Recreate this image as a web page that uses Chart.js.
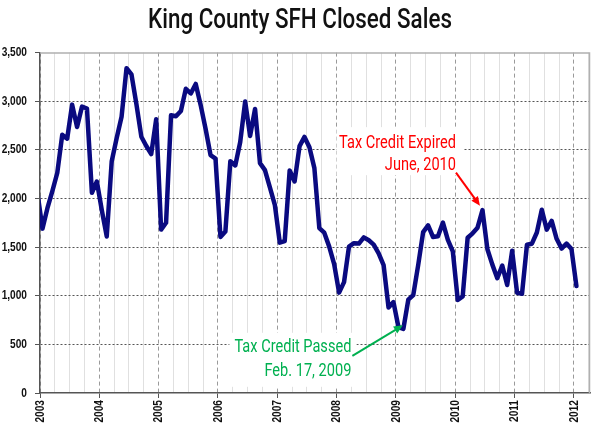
<!DOCTYPE html>
<html><head><meta charset="utf-8">
<script src="https://cdn.jsdelivr.net/npm/chart.js@4.4.1/dist/chart.umd.min.js"></script>
<style>html,body{margin:0;padding:0;background:#fff}#wrap{width:600px;height:435px;position:relative}</style>
</head><body><div id="wrap"><canvas id="c"></canvas></div>
<script>
// ---- data ----
const FIRST_YEAR = 2003;
const months = [];
for (let y = 2002, m = 12; !(y === 2012 && m === 2);) {
  months.push(y + '-' + String(m).padStart(2, '0'));
  m++; if (m > 12) { m = 1; y++; }
}
// monthly closed sales, Dec 2002 .. Jan 2012
const sales = [
  2050,
  1690, 1900, 2075, 2265, 2655, 2615, 2965, 2735, 2945, 2925, 2058, 2175,
  1880, 1610, 2380, 2620, 2840, 3340, 3275, 2970, 2635, 2540, 2457, 2815,
  1680, 1750, 2855, 2845, 2900, 3128, 3080, 3178, 2960, 2715, 2445, 2410,
  1605, 1660, 2383, 2340, 2580, 2997, 2643, 2920, 2363, 2292, 2115, 1935,
  1546, 1562, 2288, 2175, 2538, 2633, 2526, 2312, 1695, 1648, 1505, 1325,
  1032, 1140, 1505, 1540, 1536, 1600, 1570, 1525, 1436, 1316, 878, 935,
  678, 660, 960, 1007, 1316, 1654, 1723, 1604, 1611, 1752, 1574, 1457,
  956, 993, 1596, 1642, 1700, 1880, 1478, 1320, 1180, 1310, 1110, 1462,
  1030, 1020, 1525, 1535, 1650, 1885, 1680, 1770, 1585, 1485, 1537, 1480,
  1100
];
const yearLabels = ['2003','2004','2005','2006','2007','2008','2009','2010','2011','2012'];
const yTicks = [0, 500, 1000, 1500, 2000, 2500, 3000, 3500];
const titleText = 'King County SFH Closed Sales';
const notes = [
  { lines: ['Tax Credit Passed', 'Feb. 17, 2009'], at: '2009-02' },
  { lines: ['Tax Credit Expired', 'June, 2010'], at: '2010-06' }
];

// ---- condensed text rendering (no narrow font installed) ----
const CONDENSE = { CondensedSans: 0.78, CondensedTitle: 0.80, CondensedNote: 0.81 };
(function () {
  const proto = CanvasRenderingContext2D.prototype;
  const origFill = proto.fillText, origMeasure = proto.measureText;
  const factor = f => {
    for (const k in CONDENSE) if (String(f).indexOf(k) >= 0) return CONDENSE[k];
    return 0;
  };
  proto.fillText = function (text, x, y, maxW) {
    const s = factor(this.font);
    if (!s) return maxW === undefined ? origFill.call(this, text, x, y) : origFill.call(this, text, x, y, maxW);
    this.save();
    this.translate(x, y);
    this.scale(s, 1);
    origFill.call(this, text, 0, 0);
    this.restore();
  };
  proto.measureText = function (text) {
    const m = origMeasure.call(this, text);
    const s = factor(this.font);
    if (!s) return m;
    return {
      width: m.width * s,
      actualBoundingBoxAscent: m.actualBoundingBoxAscent,
      actualBoundingBoxDescent: m.actualBoundingBoxDescent,
      actualBoundingBoxLeft: m.actualBoundingBoxLeft * s,
      actualBoundingBoxRight: m.actualBoundingBoxRight * s,
      fontBoundingBoxAscent: m.fontBoundingBoxAscent,
      fontBoundingBoxDescent: m.fontBoundingBoxDescent
    };
  };
})();

// ---- styling ----
const FONT = "CondensedSans, 'Liberation Sans', Arial, sans-serif";
const TITLE_FONT = "CondensedTitle, Roboto, 'Liberation Sans', sans-serif";
const NOTE_FONT = "CondensedNote, Roboto, 'Liberation Sans', sans-serif";
const noteStyles = [
  { color: '#00b050', textDx: -52, lineDy: [19, 43], box: [-174, 4, 127, 54], arrow: [-51, 27, -0.5, -3.5] },
  { color: '#ff0000', textDx: -26.5, lineDy: [-67, -44.5], box: [-146, -83, 127, 48], arrow: [-26.5, -37.5, -2.5, -4.5] }
];

function monthOffset(label) {
  const [y, m] = label.split('-').map(Number);
  return (y - FIRST_YEAR) * 12 + (m - 1);
}
const points = sales.map((v, k) => ({ x: monthOffset(months[k]) + 0.5, y: v }));

function anchorOf(chart, note) {
  const k = months.indexOf(note.at);
  return {
    x: chart.scales.x.getPixelForValue(monthOffset(note.at) + 0.5),
    y: chart.scales.y.getPixelForValue(sales[k])
  };
}

const decor = {
  id: 'decor',
  beforeDatasetsDraw(chart) {
    const ctx = chart.ctx, a = chart.chartArea;
    ctx.save();
    ctx.strokeStyle = '#b0b0b0';
    ctx.lineWidth = 1.5;
    ctx.beginPath();
    ctx.moveTo(a.left, a.top + 0.5);
    ctx.lineTo(a.right - 0.5, a.top + 0.5);
    ctx.lineTo(a.right - 0.5, a.bottom);
    ctx.stroke();
    ctx.fillStyle = '#ffffff';
    notes.forEach((n, i) => {
      const p = anchorOf(chart, n), b = noteStyles[i].box;
      ctx.fillRect(p.x + b[0], p.y + b[1], b[2], b[3]);
    });
    ctx.restore();
  },
  afterDatasetsDraw(chart) {
    const ctx = chart.ctx;
    ctx.save();
    notes.forEach((n, i) => {
      const s = noteStyles[i], p = anchorOf(chart, n);
      ctx.fillStyle = s.color;
      ctx.strokeStyle = s.color;
      ctx.font = '18px ' + NOTE_FONT;
      ctx.textAlign = 'right';
      ctx.textBaseline = 'middle';
      n.lines.forEach((t, j) => ctx.fillText(t, p.x + s.textDx, p.y + s.lineDy[j]));
      const x1 = p.x + s.arrow[0], y1 = p.y + s.arrow[1], x2 = p.x + s.arrow[2], y2 = p.y + s.arrow[3];
      const ang = Math.atan2(y2 - y1, x2 - x1), L = 9, W = 4;
      ctx.lineWidth = 2;
      ctx.beginPath();
      ctx.moveTo(x1, y1);
      ctx.lineTo(x2 - Math.cos(ang) * L * 0.8, y2 - Math.sin(ang) * L * 0.8);
      ctx.stroke();
      ctx.beginPath();
      ctx.moveTo(x2, y2);
      ctx.lineTo(x2 - Math.cos(ang) * L + Math.sin(ang) * W, y2 - Math.sin(ang) * L - Math.cos(ang) * W);
      ctx.lineTo(x2 - Math.cos(ang) * L - Math.sin(ang) * W, y2 - Math.sin(ang) * L + Math.cos(ang) * W);
      ctx.closePath();
      ctx.fill();
    });
    ctx.restore();
  }
};

const isYear = c => c.tick && Math.abs(c.tick.value % 12) < 1e-6;

new Chart(document.getElementById('c'), {
  type: 'line',
  data: {
    datasets: [{
      data: points,
      borderColor: '#0a0a80',
      borderWidth: 4.5,
      pointRadius: 0,
      tension: 0,
      borderJoinStyle: 'round',
      borderCapStyle: 'round',
      clip: 0
    }]
  },
  options: {
    responsive: true,
    maintainAspectRatio: false,
    animation: false,
    layout: { padding: 0 },
    plugins: {
      legend: { display: false },
      tooltip: { enabled: false },
      title: {
        display: true, text: titleText, color: '#111111',
        font: { family: TITLE_FONT, size: 28, weight: 500, lineHeight: 1.2 },
        padding: { top: 4, bottom: 15 }
      }
    },
    scales: {
      x: {
        type: 'linear', min: 0, max: 111.25,
        afterFit(s) { s.height = 42; s.paddingLeft = 0; s.paddingRight = 0; },
        ticks: {
          stepSize: 3, autoSkip: false, includeBounds: false,
          minRotation: 90, maxRotation: 90, padding: 2,
          color: '#111111', font: { family: FONT, size: 13, weight: 'bold' },
          callback: v => (Math.abs(v % 12) < 1e-6 ? yearLabels[Math.round(v / 12)] : '')
        },
        grid: {
          color: c => (isYear(c) ? '#9a9a9a' : '#e0e0e0'),
          lineWidth: 1,
          tickLength: 5,
          tickColor: c => (isYear(c) ? '#555555' : 'rgba(0,0,0,0)')
        },
        border: {
          color: '#555555', width: 1.5,
          dash: c => (isYear(c) ? [4, 3] : [])
        }
      },
      y: {
        min: 0, max: 3500,
        afterFit(s) { s.width = 40; },
        afterBuildTicks(s) { s.ticks = yTicks.map(v => ({ value: v })); },
        ticks: {
          padding: 8, color: '#111111', font: { family: FONT, size: 13, weight: 'bold' },
          callback: v => v.toLocaleString('en-US')
        },
        grid: {
          color: c => (c.tick && (c.tick.value === 0 || c.tick.value === 3500) ? 'rgba(0,0,0,0)' : '#555555'),
          lineWidth: 1, tickLength: 5, tickColor: '#555555'
        },
        border: { color: '#555555', width: 1.5, dash: [2, 2] }
      },
      yR: {
        position: 'right', min: 0, max: 3500,
        afterFit(s) { s.width = 10; },
        ticks: { display: false },
        grid: { display: false, drawTicks: false },
        border: { display: false }
      }
    }
  },
  plugins: [decor]
});
</script>
</body></html>
